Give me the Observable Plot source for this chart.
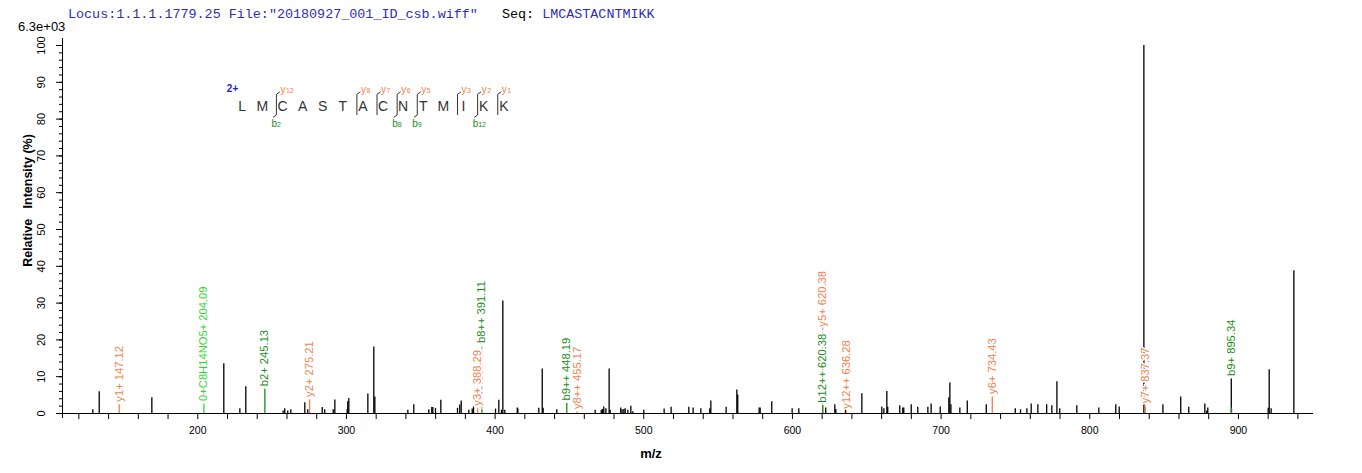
<!DOCTYPE html>
<html><head><meta charset="utf-8">
<script src="https://cdn.jsdelivr.net/npm/d3@7"></script>
<script src="https://cdn.jsdelivr.net/npm/@observablehq/plot@0.6"></script>
<style>
body{margin:0;background:#fff;}
#wrap{position:relative;width:1362px;height:473px;overflow:hidden;font-family:Arial,"Liberation Sans",sans-serif;background:#fff;}
#wrap svg{position:absolute;left:0;top:0;}
#wrap svg text{white-space:pre;}
.hdr{position:absolute;white-space:pre;line-height:16px;}
</style></head><body>
<div id="wrap"></div>
<script>
// ---------- data ----------
const headerLocus = 'Locus:1.1.1.1779.25 File:"20180927_001_ID_csb.wiff"';
const headerSeqLabel = 'Seq:';
const peptide = 'LMCASTACNTMIKK';
const scaleNote = '6.3e+03';
const chargeLabel = '2+';
const xTitle = 'm/z';
const yTitle = 'Relative   Intensity (%)';

const peakMz = [129.4,133.7,169.1,217.5,228.3,232.3,257.4,258.5,260.5,262.6,272.0,274.0,283.7,285.4,291.1,292.2,300.5,300.9,301.6,314.4,318.4,319.1,341.3,345.3,355.4,357.4,358.1,359.9,363.5,374.7,376.2,377.2,382.3,384.6,385.5,400.3,402.5,404.3,405.2,406.5,414.9,415.3,429.4,431.7,432.3,441.5,467.3,471.4,472.2,473.1,474.5,476.7,477.4,484.5,485.4,486.6,487.5,489.3,491.3,492.6,500.0,513.7,518.4,530.3,533.2,538.4,544.4,545.1,555.4,562.6,563.2,577.6,578.3,586.1,599.8,604.3,622.4,628.5,629.2,635.7,646.7,660.1,661.5,663.5,664.1,672.2,674.2,674.9,679.9,684.3,691.1,693.3,699.4,705.2,705.9,706.6,712.6,717.6,730.4,749.9,753.4,757.7,760.6,765.1,771.0,774.5,777.9,779.8,791.3,806.1,817.5,819.8,836.4,849.2,861.2,866.6,877.4,878.7,879.4,895.2,920.0,920.7,922.0,937.3];
const peakInt = [1.0,5.9,4.3,13.5,1.3,7.3,0.7,1.3,0.7,1.0,2.9,1.0,1.6,1.0,1.0,3.7,1.0,3.2,4.1,5.3,18.1,4.5,0.9,2.4,1.0,1.6,1.6,1.4,3.6,1.4,2.3,3.4,0.9,1.2,1.8,1.2,3.6,0.9,30.6,0.9,1.5,1.2,1.4,12.1,1.4,1.0,0.9,0.9,1.1,1.8,1.3,12.1,0.9,1.5,1.0,1.1,1.3,0.9,2.0,0.5,0.9,1.2,1.7,1.7,1.5,1.3,1.3,3.4,1.7,6.4,5.0,1.5,1.5,3.2,1.3,1.3,1.5,2.4,1.1,1.7,5.4,1.8,1.3,6.0,1.7,2.1,1.5,1.5,2.4,1.7,1.7,2.6,1.8,4.3,8.3,2.4,1.5,3.4,2.4,1.3,1.0,1.3,2.6,2.4,2.4,2.1,8.6,1.3,2.1,1.5,2.4,1.8,100,2.4,4.5,1.7,2.6,0.7,1.5,9.4,1.4,11.9,1.3,38.8];

const annMz    = [147.12,204.09,245.13,275.21,388.29,391.11,448.19,455.17,620.38,620.38,636.28,734.43,837.37,895.34];
const annInt   = [2.4,2.6,6.6,3.7,1.3,1.0,2.7,0.4,2.1,2.1,0.5,4.5,2.0,1.5];
const annLabel = ['y1+ 147.12','0+C8H14NO5+ 204.09','b2+ 245.13','y2+ 275.21','y3+ 388.29','b8++ 391.11','b9++ 448.19','y8++ 455.17','b12++ 620.38','y5+ 620.38','y12++ 636.28','y6+ 734.43','y7+ 837.37','b9+ 895.34'];
const annKind  = ['y','other','b','y','y','b','b','y','b','y','y','y','y','b'];

const xTicks = d3.range(120, 941, 20);
const xLabelEvery = 100;
const yMinor = d3.range(0, 101, 2);
const yMajor = d3.range(0, 101, 10);

const yIonAfter = [2,6,7,8,9,11,12,13];
const bIonAfter = [2,8,9,12];

// ---------- layout ----------
const W = 1362, H = 473, mL = 62, mR = 49, mT = 45, mB = 60;
const xDomain = [109, 950.5];
const colors = {y: '#f07f4c', b: '#178c17', other: '#2fd82f'};
const font = 'Arial, "Liberation Sans", sans-serif';
const labelSize = 11.2;

const peaks = peakMz.map((mz, i) => ({mz, int: peakInt[i]}));
const ann = annMz.map((mz, i) => ({mz, int: annInt[i], label: annLabel[i], kind: annKind[i]}));

const xs = d3.scaleLinear(xDomain, [mL, W - mR]);
const ys = d3.scaleLinear([0, 100], [H - mB, mT]);
const ctx = document.createElement('canvas').getContext('2d');
ctx.font = labelSize + 'px Arial, "Liberation Sans", sans-serif';

const placed = [];
for (const a of ann) {
  const near = peaks.filter(p => Math.abs(p.mz - a.mz) < 0.3).map(p => p.int);
  const base = Math.max(a.int, ...near);
  const px = xs(a.mz);
  let start = ys(base) - 3;
  const own = start;
  const len = ctx.measureText(a.label).width;
  for (const q of placed) {
    if (Math.abs(q.px - px) < 9 && start > q.end - 7) start = q.end - 7;
  }
  placed.push({...a, px, base, start, end: start - len, ly: ys.invert(start), pushed: start < own - 0.5, lineTop: ys.invert(start + 1)});
}

const wrap = document.getElementById('wrap');

const main = Plot.plot({
  width: W, height: H, marginLeft: mL, marginRight: mR, marginTop: mT, marginBottom: mB,
  style: {fontFamily: font, background: 'transparent', overflow: 'visible'},
  x: {domain: xDomain},
  y: {domain: [0, 100]},
  marks: [
    Plot.axisX({ticks: xTicks, tickSize: 6, tickPadding: 7, fontSize: 10.5, label: null, tickFormat: d => d % xLabelEvery === 0 ? String(d) : ''}),
    Plot.axisY({ticks: yMinor, tickSize: 3, label: null, tickFormat: () => ''}),
    Plot.axisY({ticks: yMajor, tickSize: 6, label: null, tickFormat: () => ''}),
    Plot.text(yMajor, {y: d => d, text: d => String(d), frameAnchor: 'left', dx: -21, rotate: -90, textAnchor: 'middle', fontSize: 11, fill: '#000'}),
    Plot.ruleX(peaks, {x: 'mz', y1: 0, y2: 'int', stroke: '#000', strokeWidth: 1.3}),
    ...['y', 'b', 'other'].map(k => Plot.ruleX(placed.filter(d => d.kind === k), {x: 'mz', y1: 0, y2: 'int', stroke: colors[k], strokeWidth: 1.3})),
    Plot.ruleX(placed.filter(d => d.pushed), {x: 'mz', y1: 'base', y2: 'lineTop', stroke: '#999', strokeDasharray: '3,2', strokeWidth: 1}),
    ...['y', 'b', 'other'].map(k => Plot.text(placed.filter(d => d.kind === k), {x: 'mz', y: 'ly', text: 'label', rotate: -90, textAnchor: 'start', fill: colors[k], stroke: '#fff', strokeWidth: 3, paintOrder: 'stroke', fontSize: labelSize})),
    Plot.ruleY([0], {stroke: '#000', strokeWidth: 1}),
    Plot.ruleX([xDomain[0]], {stroke: '#000', strokeWidth: 1, insetTop: -7, insetBottom: -5}),
    Plot.text([xTitle], {frameAnchor: 'bottom', dy: 44, dx: -37, fontWeight: 'bold', fontSize: 13, fill: '#000'}),
    Plot.text([yTitle], {frameAnchor: 'left', dx: -35, dy: -29, rotate: -90, textAnchor: 'middle', fontWeight: 'bold', fontSize: 12.5, fill: '#000'})
  ]
});
wrap.appendChild(main);

// peptide fragment map overlay
const residues = peptide.split('').map((r, i) => ({r, i}));
const yBreaks = yIonAfter.map(a => ({pos: a - 0.5, n: String(peptide.length - a)}));
const bBreaks = bIonAfter.map(a => ({pos: a - 0.5, n: String(a)}));
const allBreaks = Array.from(new Set([...yIonAfter, ...bIonAfter])).map(a => ({pos: a - 0.5}));
const sh = 0.2;
const seqPlot = Plot.plot({
  width: W, height: H, margin: 0,
  style: {fontFamily: font, background: 'transparent', overflow: 'visible'},
  x: {domain: [0, peptide.length - 1], range: [241.7, 503.3], axis: null},
  y: {domain: [-1, 1], range: [123, 89], axis: null},
  marks: [
    Plot.text([chargeLabel], {x: () => -0.48, y: () => 1.05, fill: '#1c1cc8', fontWeight: 'bold', fontSize: 10}),
    Plot.text(residues, {x: 'i', y: () => 0, text: 'r', fontSize: 14, fill: '#333'}),
    Plot.link(allBreaks, {x1: d => d.pos + sh, x2: d => d.pos + sh, y1: () => -0.5, y2: () => 0.72, stroke: '#333', strokeWidth: 1}),
    Plot.link(yBreaks, {x1: d => d.pos + sh, x2: d => d.pos + sh + 0.17, y1: () => 0.72, y2: () => 0.86, stroke: '#333', strokeWidth: 1}),
    Plot.link(bBreaks, {x1: d => d.pos + sh, x2: d => d.pos + sh - 0.17, y1: () => -0.5, y2: () => -0.64, stroke: '#333', strokeWidth: 1}),
    Plot.text(yBreaks, {x: d => d.pos + sh, y: () => 1.0, text: () => 'y', dx: 4, textAnchor: 'start', fill: colors.y, fontSize: 10}),
    Plot.text(yBreaks, {x: d => d.pos + sh, y: () => 0.95, text: 'n', dx: 9.5, textAnchor: 'start', fill: colors.y, fontSize: 7}),
    Plot.text(bBreaks, {x: d => d.pos + sh, y: () => -1.0, text: () => 'b', dx: -5, textAnchor: 'start', fill: colors.b, fontSize: 10}),
    Plot.text(bBreaks, {x: d => d.pos + sh, y: () => -1.05, text: 'n', dx: 0.5, textAnchor: 'start', fill: colors.b, fontSize: 7})
  ]
});
seqPlot.style.pointerEvents = 'none';
wrap.appendChild(seqPlot);

// header lines
const h1 = document.createElement('div');
h1.className = 'hdr';
h1.style.cssText = 'left:68px;top:7px;font-family:"Liberation Mono",monospace;font-size:13.4px;color:#2e2eb8;';
h1.append(headerLocus + '   ');
const s1 = document.createElement('span'); s1.style.color = '#000'; s1.textContent = headerSeqLabel + ' ';
h1.append(s1);
h1.append(peptide);
wrap.appendChild(h1);

const h2 = document.createElement('div');
h2.className = 'hdr';
h2.style.cssText = 'left:18px;top:19px;font-size:13px;color:#000;font-family:' + font + ';';
h2.textContent = scaleNote;
wrap.appendChild(h2);
</script>
</body></html>
